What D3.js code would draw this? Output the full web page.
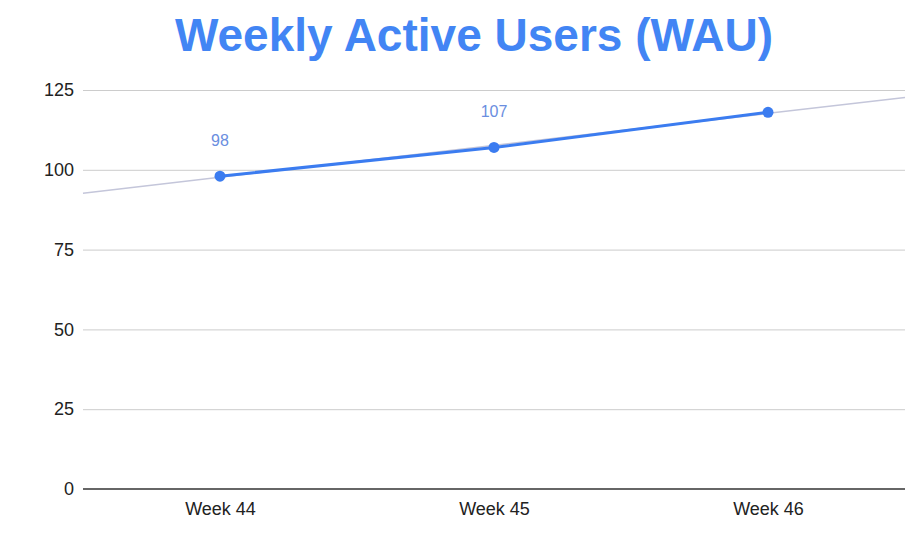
<!DOCTYPE html>
<html>
<head>
<meta charset="utf-8">
<script src="https://cdn.jsdelivr.net/npm/d3@7"></script>
<style>
  html, body { margin: 0; padding: 0; background: #fff; }
  svg { display: block; font-family: Arial, "Liberation Sans", sans-serif; }
</style>
</head>
<body>
<div id="chart"></div>
<script>
const weeks = ['Week 44', 'Week 45', 'Week 46'];
const users = [98, 107, 118];
const labelled = [true, true, false];
const yTicks = [0, 25, 50, 75, 100, 125];

const width = 915;
const height = 542;
const margin = { top: 90, right: 10, bottom: 53, left: 83 };

const svg = d3.select('#chart')
  .append('svg')
  .attr('width', width)
  .attr('height', height);

const x = d3.scalePoint()
  .domain(weeks)
  .range([margin.left, width - margin.right])
  .padding(0.5);

const y = d3.scaleLinear()
  .domain([0, 125])
  .range([height - margin.bottom, margin.top]);

svg.append('text')
  .attr('x', 474)
  .attr('y', 51)
  .attr('text-anchor', 'middle')
  .attr('fill', '#4285f4')
  .style('font-size', '46px')
  .style('font-weight', 'bold')
  .text('Weekly Active Users (WAU)');

// gridlines + y labels
svg.append('g')
  .attr('transform', `translate(${margin.left},0)`)
  .call(d3.axisLeft(y).tickValues(yTicks).tickSize(0).tickPadding(9))
  .call(g => g.select('.domain').remove())
  .call(g => g.selectAll('.tick line')
    .attr('x2', width - margin.left - margin.right)
    .attr('stroke', d => d === 0 ? 'none' : '#cccccc'))
  .call(g => g.selectAll('text').attr('fill', '#222').style('font-size', '18px').style('font-family', 'Arial, "Liberation Sans", sans-serif'));

// x axis
svg.append('g')
  .attr('transform', `translate(0,${y(0)})`)
  .call(d3.axisBottom(x).tickSize(0).tickPadding(13))
  .call(g => g.select('.domain').attr('stroke', '#333').attr('stroke-width', 1.5)
    .attr('d', `M${margin.left},0H${width - margin.right}`))
  .call(g => g.selectAll('text').attr('fill', '#222').style('font-size', '18px').style('font-family', 'Arial, "Liberation Sans", sans-serif'));

// linear trendline over category index
const n = users.length;
const meanI = (n - 1) / 2;
const meanV = d3.mean(users);
const slope = d3.sum(users, (v, i) => (i - meanI) * (v - meanV)) / d3.sum(users, (v, i) => (i - meanI) ** 2);
const step = x.step();
const idxX = i => x(weeks[0]) + i * step;
const trend = [-0.5, n - 0.5].map(i => [idxX(i), y(meanV + slope * (i - meanI))]);

svg.append('path')
  .attr('d', d3.line()(trend))
  .attr('fill', 'none')
  .attr('stroke', '#c4c6da')
  .attr('stroke-width', 1.5);

const pts = weeks.map((w, i) => ({ w, v: users[i], lab: labelled[i] }));

svg.append('path')
  .datum(pts)
  .attr('d', d3.line().x(d => x(d.w)).y(d => y(d.v)))
  .attr('fill', 'none')
  .attr('stroke', '#3b7cf0')
  .attr('stroke-width', 3);

svg.selectAll('.dot')
  .data(pts)
  .enter()
  .append('circle')
  .attr('cx', d => x(d.w))
  .attr('cy', d => y(d.v))
  .attr('r', 5.5)
  .attr('fill', '#3b7cf0');

svg.selectAll('.lbl')
  .data(pts.filter(d => d.lab))
  .enter()
  .append('text')
  .attr('x', d => x(d.w))
  .attr('y', d => y(d.v) - 30)
  .attr('text-anchor', 'middle')
  .attr('fill', '#6a8ee0')
  .style('font-size', '16px')
  .text(d => d.v);
</script>
</body>
</html>
